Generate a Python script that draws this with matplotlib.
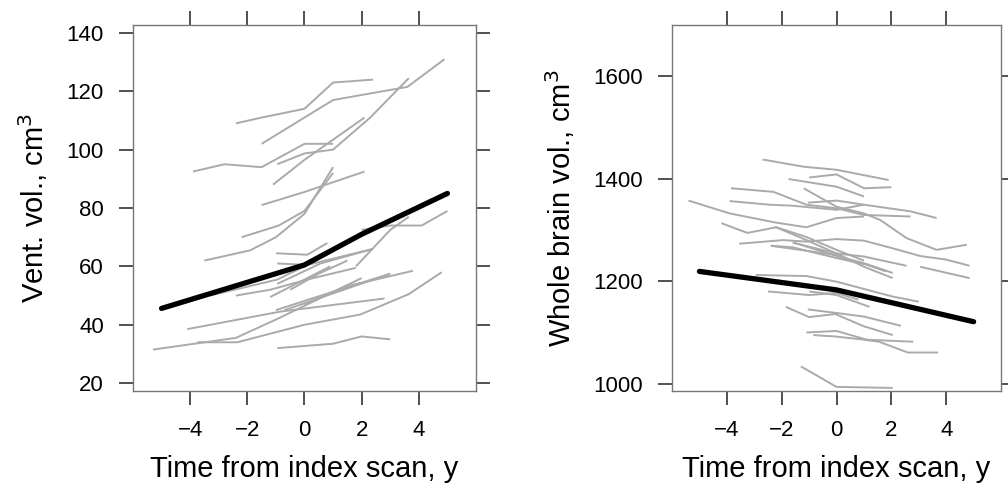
import matplotlib

matplotlib.use("Agg")
import matplotlib.pyplot as plt

plt.rcParams.update({
    "font.family": ["Liberation Sans", "DejaVu Sans"],
    "font.size": 16,
    "axes.unicode_minus": True,
})

GREY = "#aaaaaa"

# -- ventricular volume trajectories (time, cm^3) --
vent_times = [
    [-2.4, -1.5, 0, 1, 2.4],
    [-1.5, 0, 1, 3.6, 4.9],
    [-0.95, 0, 1, 2.3, 3.65],
    [-1.1, 0, 2.1],
    [-3.9, -2.8, -1.5, 0, 1],
    [-1.5, 0, 2.1],
    [-3.5, -1.9, -1, 0, 1],
    [-2.2, -0.9, 0, 1],
    [-1, 0.1, 0.8],
    [-0.95, 0.1, 2.4],
    [1.8, 3.0, 3.65],
    [2, 3, 4.1, 5],
    [-2.4, -1.2, 0.1, 1.8],
    [-1.2, 0.1, 0.9],
    [-1, 0.1, 3],
    [0, 1.4, 3.8],
    [-4.1, -0.85, 2.8],
    [-5.3, -2.4, -0.95, 0, 2],
    [-3.75, -2.35, 0, 1.95, 3.65, 4.8],
    [-0.95, 1, 2, 3],
    [-0.7, 3],
    [-3.3, -0.95, 0],
    [-0.95, 0.56, 2.4],
    [-0.5, 0.5, 1.5],
]
vent_vols = [
    [109, 111, 114, 123, 124],
    [102, 111, 117, 121.5, 131],
    [95, 98.7, 100, 111, 124.5],
    [88, 96.5, 111],
    [92.5, 95, 94, 102, 102],
    [81, 85.5, 92.5],
    [62, 65.5, 70, 78, 94],
    [70, 74, 79, 92],
    [64.5, 64, 68],
    [61, 60.5, 66],
    [60, 72.5, 77],
    [72.5, 74, 74, 79],
    [50, 52, 55.5, 59.5],
    [49.5, 56, 60],
    [45, 48.5, 57.5],
    [47, 53, 58.5],
    [38.5, 44.5, 49],
    [31.5, 35.5, 42, 46.5, 56],
    [34, 34, 40, 43.5, 50.5, 58],
    [32, 33.5, 36, 35],
    [45, 57.5],
    [50, 55.5, 60],
    [54, 61, 66],
    [52, 57.5, 62],
]
vent_mean_t = [-5, 0, 2, 5]
vent_mean_v = [45.6, 60.5, 71, 85]

# -- whole brain volume trajectories --
brain_times = [
    [-2.7, -1.2, 0, 1.9],
    [-1, 0, 1, 2],
    [-1.75, 0, 1],
    [-3.85, -2.3, -1.1, 0, 1, 2.7],
    [-5.4, -3.9, -2.2, -1.1, 0, 1],
    [-3.9, -2.45, -1.6, 0, 1, 2.7, 3.65],
    [-1.2, 0, 1, 1.6, 2.55, 3.65, 4.75],
    [-1.05, 0, 1],
    [-4.2, -3.25, -2.2, -1.1, 0, 1],
    [-3.55, -1.95, -1.1, 0, 1, 2.05, 3.05, 4, 4.85],
    [-2.4, -1.6, 0, 1.1, 1.8],
    [-1.55, 0, 1, 2.05],
    [3.05, 4.85],
    [-2.4, 0, 0.85],
    [-1.6, 0, 1, 2.55],
    [-2.25, -1.1, 0, 1, 2.05],
    [-2.5, -1, 0, 0.8],
    [-2.95, -1.1, 0, 2.05, 3],
    [-1, 0, 1.2],
    [-1.85, -1, -0.05, 1, 2.05],
    [-1.05, 0, 1, 2.35],
    [-1.1, 0, 1.1, 2.8],
    [-0.85, 0, 1, 1.55, 2.6, 3.7],
    [-1.3, 0, 2.05],
]
brain_vols = [
    [1437, 1423, 1417, 1397],
    [1402, 1408, 1381, 1383],
    [1399, 1384, 1365],
    [1381, 1374, 1349, 1342, 1329, 1326],
    [1357, 1332, 1314, 1305, 1323, 1326],
    [1356, 1349, 1347, 1339, 1349, 1336, 1323],
    [1381, 1345, 1332, 1319, 1284, 1261, 1271],
    [1353, 1357, 1349],
    [1313, 1294, 1305, 1286, 1261, 1240],
    [1273, 1280, 1277, 1282, 1279, 1264, 1249, 1242, 1230],
    [1269, 1266, 1245, 1232, 1219],
    [1275, 1249, 1235, 1216],
    [1228, 1206],
    [1269, 1251, 1235],
    [1275, 1254, 1248, 1230],
    [1306, 1280, 1254, 1228, 1206],
    [1180, 1173, 1177, 1164],
    [1212, 1210, 1199, 1170, 1160],
    [1180, 1173, 1150],
    [1150, 1130, 1136, 1112, 1095],
    [1145, 1138, 1131, 1113],
    [1100, 1103, 1086, 1082],
    [1095, 1092, 1086, 1082, 1061, 1061],
    [1034, 994, 992],
]
brain_mean_t = [-5, 0, 5]
brain_mean_v = [1219, 1183, 1121]

x_ticks = [-4, -2, 0, 2, 4]
vent_ticks = [20, 40, 60, 80, 100, 120, 140]
brain_ticks = [1000, 1200, 1400, 1600]

fig = plt.figure(figsize=(10.08, 4.87), dpi=100)
ax1 = fig.add_axes([0.1319, 0.1971, 0.3403, 0.7515])
ax2 = fig.add_axes([0.6667, 0.1971, 0.3264, 0.7515])

panels = [
    (ax1, vent_times, vent_vols, vent_mean_t, vent_mean_v, vent_ticks,
     (17.3, 142.7), "Vent. vol., cm$^3$"),
    (ax2, brain_times, brain_vols, brain_mean_t, brain_mean_v, brain_ticks,
     (986, 1699), "Whole brain vol., cm$^3$"),
]
for ax, ts, vs, mt, mv, yt, ylim, ylab in panels:
    for t, v in zip(ts, vs):
        ax.plot(t, v, color=GREY, lw=1.4, solid_capstyle="butt")
    ax.plot(mt, mv, color="black", lw=3.8, solid_capstyle="round")
    ax.set_xlim(-6, 6)
    ax.set_ylim(*ylim)
    ax.set_xticks(x_ticks)
    ax.set_yticks(yt)
    ax.tick_params(direction="out", length=10, width=1.2, pad=11,
                   color="#333333", labelsize=16,
                   top=True, right=True, labeltop=False, labelright=False)
    for sp in ax.spines.values():
        sp.set_color("#777777")
        sp.set_linewidth(1.0)
    ax.set_xlabel("Time from index scan, y", fontsize=21, labelpad=10)
    ax.set_ylabel(ylab, fontsize=21, labelpad=12)

fig.savefig("out.png", dpi=100)
